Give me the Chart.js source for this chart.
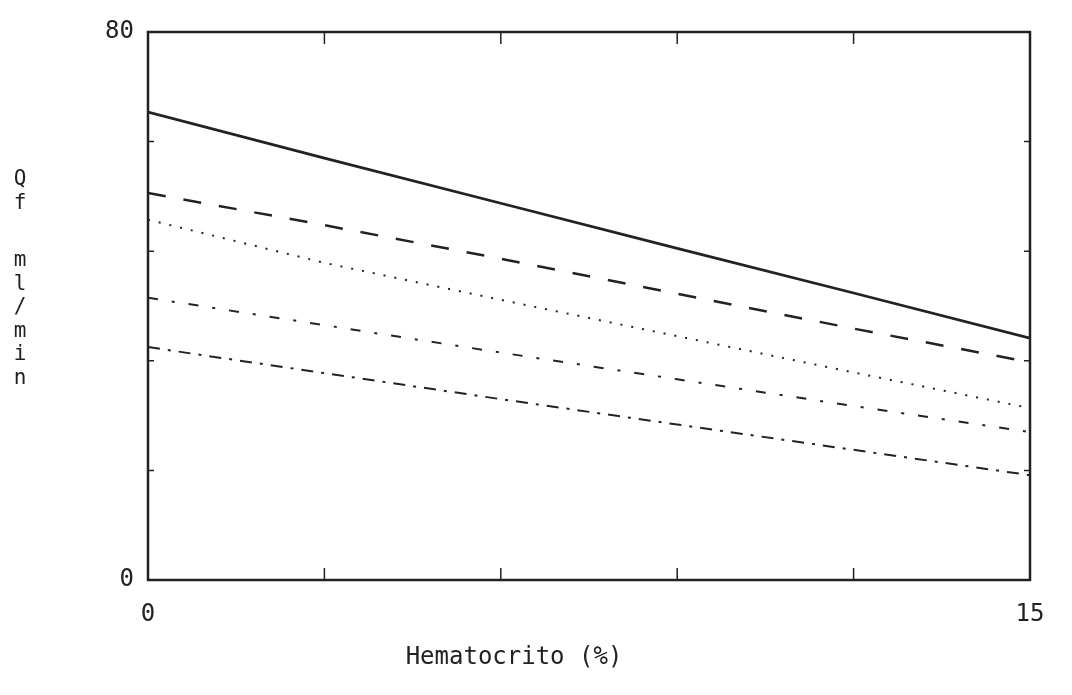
<!DOCTYPE html>
<html>
<head>
<meta charset="utf-8">
<script src="https://cdn.jsdelivr.net/npm/chart.js@4"></script>
<style>
  body { margin: 0; background: #fff; }
  #wrap { width: 1072px; height: 695px; }
</style>
</head>
<body>
<div id="wrap"><canvas id="qfChart"></canvas></div>
<script>
// Hematocrit values (x) and Qf readings (y) per curve
const hematocrito = [0, 3, 6, 9, 12, 15];
const curveSolid = [68.3, 61.6, 55.0, 48.4, 41.9, 35.3];
const curveDashed = [56.5, 51.8, 46.9, 41.8, 36.7, 31.8];
const curveDotted = [52.6, 46.3, 40.9, 35.6, 30.3, 25.1];
const curveDashDot1 = [41.2, 37.2, 33.2, 29.3, 25.4, 21.6];
const curveDashDot2 = [34.0, 30.2, 26.4, 22.7, 19.0, 15.3];

const xTicksShown = [0, 15];
const yTicksShown = [0, 80];
const xTitle = "Hematocrito (%)";
const yTitleChars = ["Q", "f", "", "m", "l", "/", "m", "i", "n"];

const ink = "#222";
const font = "DejaVu Sans Mono";

function pts(ys) {
  return hematocrito.map((x, i) => ({ x: x, y: ys[i] }));
}

function lineSet(ys, dash, width) {
  return {
    data: pts(ys),
    borderColor: ink,
    borderWidth: width,
    borderDash: dash,
    pointRadius: 0,
    fill: false,
    tension: 0
  };
}

// Frame, inward tick marks and the titles
const framePlugin = {
  id: "frame",
  afterDraw(chart) {
    const ctx = chart.ctx;
    const a = chart.chartArea;
    const xs = chart.scales.x, ys = chart.scales.y;
    ctx.save();
    ctx.strokeStyle = ink;
    ctx.lineWidth = 2.5;
    ctx.strokeRect(a.left, a.top, a.right - a.left, a.bottom - a.top);
    ctx.lineWidth = 1.5;
    xs.ticks.forEach(t => {
      const px = xs.getPixelForValue(t.value);
      ctx.beginPath();
      ctx.moveTo(px, a.bottom); ctx.lineTo(px, a.bottom - 12);
      ctx.moveTo(px, a.top); ctx.lineTo(px, a.top + 12);
      ctx.stroke();
    });
    ys.ticks.forEach(t => {
      const py = ys.getPixelForValue(t.value);
      ctx.beginPath();
      ctx.moveTo(a.left, py); ctx.lineTo(a.left + 6, py);
      ctx.moveTo(a.right, py); ctx.lineTo(a.right - 6, py);
      ctx.stroke();
    });
    ctx.fillStyle = ink;
    ctx.font = "24px '" + font + "'";
    ctx.textAlign = "center";
    ctx.textBaseline = "middle";
    ctx.fillText(xTitle, (a.left + a.right) / 2 - 75, 658);
    ctx.font = "21px '" + font + "'";
    let y = 180;
    yTitleChars.forEach(c => {
      if (c) ctx.fillText(c, 20, y);
      y += c ? 23.5 : 34;
    });
    ctx.restore();
  }
};

new Chart(document.getElementById("qfChart"), {
  type: "line",
  data: {
    datasets: [
      lineSet(curveSolid, [], 2.8),
      lineSet(curveDashed, [18, 18], 2.5),
      lineSet(curveDotted, [2, 9], 2),
      lineSet(curveDashDot1, [10, 14, 3, 14], 2),
      lineSet(curveDashDot2, [12, 8, 3, 8], 2)
    ]
  },
  options: {
    responsive: true,
    maintainAspectRatio: false,
    animation: false,
    layout: { padding: { top: 32, right: 42, left: 0, bottom: 0 } },
    plugins: { legend: { display: false }, tooltip: { enabled: false } },
    scales: {
      x: {
        type: "linear",
        min: 0,
        max: 15,
        afterFit: s => { s.height = 115; },
        grid: { display: false },
        border: { display: false },
        ticks: {
          stepSize: 3,
          color: ink,
          padding: 12,
          font: { family: font, size: 24 },
          callback: v => xTicksShown.includes(v) ? String(v) : ""
        }
      },
      y: {
        min: 0,
        max: 80,
        afterFit: s => { s.width = 148; },
        grid: { display: false },
        border: { display: false },
        ticks: {
          stepSize: 16,
          color: ink,
          padding: 6,
          font: { family: font, size: 24 },
          callback: v => yTicksShown.includes(v) ? String(v) : ""
        }
      }
    }
  },
  plugins: [framePlugin]
});
</script>
</body>
</html>
